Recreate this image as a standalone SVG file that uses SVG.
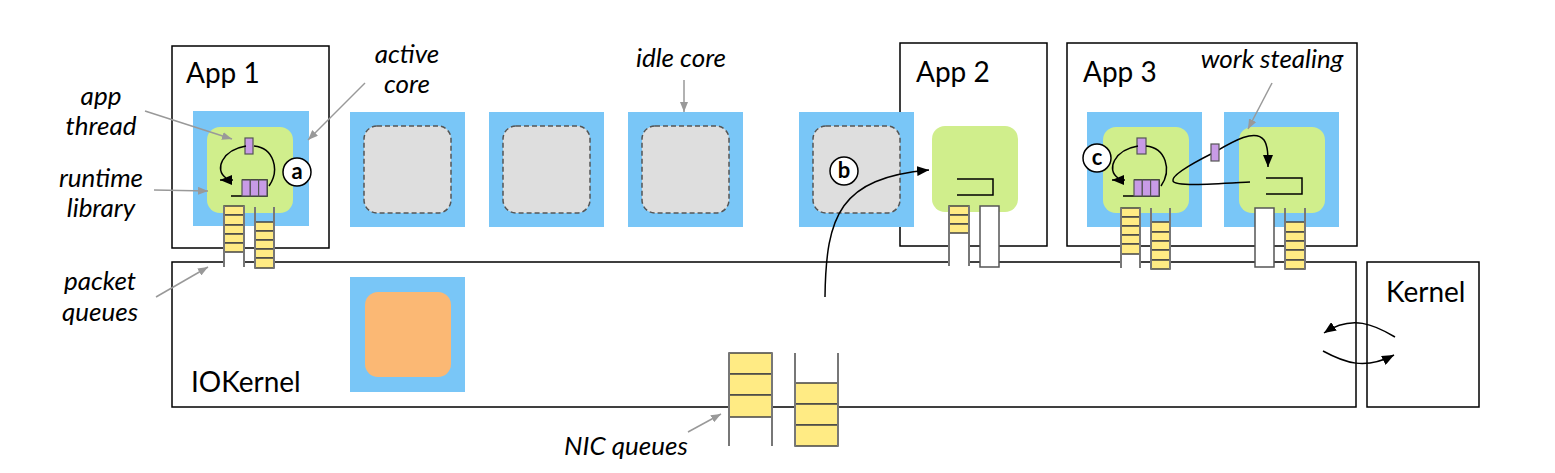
<svg xmlns="http://www.w3.org/2000/svg" width="1555" height="473" viewBox="0 0 1555 473">
<style>
.box{fill:#fff;stroke:#000;stroke-width:1.5}
.core{fill:#79C6F7}
.grn{fill:#D0EE8C}
.idle{fill:#DEDEDE;stroke:#555;stroke-width:1.5;stroke-dasharray:5 3}
.org{fill:#FBB874}
.t{font-family:Lato,"Liberation Sans",sans-serif;font-size:28px;fill:#000}
.lbl{font-family:Lato,"Liberation Sans",sans-serif;font-size:26px;font-style:italic;fill:#000;text-anchor:middle}
.cl{font-family:Lato,"Liberation Sans",sans-serif;font-size:22px;font-weight:bold;fill:#000;text-anchor:middle}
.circ{fill:#fff;stroke:#000;stroke-width:1.5}
.pur{fill:#C89BE6;stroke:#555;stroke-width:1.2}
.cell{fill:#FFEB84;stroke:#444;stroke-width:1.5}
.wall{stroke:#777;stroke-width:2;fill:none}
.qw{fill:#fff}
.eq{fill:#fff;stroke:#555;stroke-width:1.5}
.qs{fill:none;stroke:#000;stroke-width:1.5}
.lead{fill:none;stroke:#999;stroke-width:1.5;marker-end:url(#ga)}
.cur{fill:none;stroke:#000;stroke-width:1.5;marker-end:url(#ba)}
.cur2{fill:none;stroke:#000;stroke-width:1.5}
</style>
<defs>
<marker id="ba" viewBox="0 0 12 10" refX="12" refY="5" markerWidth="12" markerHeight="10" markerUnits="userSpaceOnUse" orient="auto"><path d="M0,0 L12,5 L0,10 z" fill="#000"/></marker>
<marker id="ga" viewBox="0 0 10 8" refX="10" refY="4" markerWidth="10" markerHeight="8" markerUnits="userSpaceOnUse" orient="auto"><path d="M0,0 L10,4 L0,8 z" fill="#999"/></marker>
</defs>
<rect width="1555" height="473" fill="#fff"/>

<g id="app1">
<rect class="box" x="172" y="46" width="157" height="202"/>
<text class="t" x="186" y="83">App 1</text>
<rect class="core" x="193" y="111" width="116" height="115"/>
<rect class="grn" x="207" y="127" width="86" height="86" rx="13"/>
<path class="qs" d="M231 196 L267 196 L267 180 L242 180"/>
<rect class="pur" x="242" y="180" width="8.3" height="16"/>
<rect class="pur" x="250.3" y="180" width="8.3" height="16"/>
<rect class="pur" x="258.6" y="180" width="8.4" height="16"/>
<rect class="pur" x="245" y="138" width="8" height="16"/>
</g>

<g id="core2"><rect class="core" x="350" y="112" width="115" height="115"/><rect class="idle" x="364" y="126" width="87" height="87" rx="13"/></g>
<g id="core3"><rect class="core" x="489" y="112" width="115" height="115"/><rect class="idle" x="503" y="126" width="87" height="87" rx="13"/></g>
<g id="core4"><rect class="core" x="628" y="112" width="115" height="115"/><rect class="idle" x="642" y="126" width="87" height="87" rx="13"/></g>

<g id="app2">
<rect class="box" x="900" y="43" width="147" height="203"/>
<text class="t" x="916" y="82">App 2</text>
<rect class="grn" x="932" y="126" width="86" height="86" rx="13"/>
<path class="qs" d="M957 179 L993 179 L993 195 L957 195"/>
</g>

<g id="core5"><rect class="core" x="799" y="112" width="115" height="115"/><rect class="idle" x="813" y="126" width="87" height="87" rx="13"/></g>

<g id="app3">
<rect class="box" x="1067" y="43" width="290" height="203"/>
<text class="t" x="1083" y="82">App 3</text>
<rect class="core" x="1087" y="112" width="115" height="115"/>
<rect class="grn" x="1103" y="127" width="86" height="86" rx="13"/>
<rect class="core" x="1224" y="112" width="115" height="115"/>
<rect class="grn" x="1239" y="127" width="86" height="86" rx="13"/>
<path class="qs" d="M1123 196 L1159 196 L1159 180 L1134 180"/>
<rect class="pur" x="1134" y="180" width="8.3" height="16"/>
<rect class="pur" x="1142.3" y="180" width="8.3" height="16"/>
<rect class="pur" x="1150.6" y="180" width="8.4" height="16"/>
<rect class="pur" x="1137" y="138" width="9" height="16"/>
<path class="qs" d="M1266 178 L1302 178 L1302 194 L1266 194"/>
</g>

<g id="iokernel">
<rect class="box" x="172" y="262" width="1184" height="145"/>
<text class="t" x="191" y="392">IOKernel</text>
<rect class="core" x="350" y="277" width="115" height="115"/>
<rect class="org" x="365" y="292" width="86" height="85" rx="13"/>
</g>

<g id="kernel">
<rect class="box" x="1367" y="262" width="112" height="145"/>
<text class="t" x="1386" y="302">Kernel</text>
</g>

<g id="packet-queues">
<rect class="qw" x="224" y="228" width="20" height="39"/>
<rect class="cell" x="224" y="206" width="20" height="9"/><rect class="cell" x="224" y="215" width="20" height="10"/><rect class="cell" x="224" y="225" width="20" height="9"/><rect class="cell" x="224" y="234" width="20" height="9"/><rect class="cell" x="224" y="243" width="20" height="9"/>
<path class="wall" d="M224 206 V267 M244 206 V267"/>
<rect class="qw" x="255" y="228" width="19" height="40"/>
<rect class="cell" x="255" y="222" width="19" height="9"/><rect class="cell" x="255" y="231" width="19" height="9"/><rect class="cell" x="255" y="240" width="19" height="9"/><rect class="cell" x="255" y="249" width="19" height="9"/><rect class="cell" x="255" y="258" width="19" height="10"/>
<path class="wall" d="M255 207 V268 M274 207 V268"/>

<rect class="qw" x="949" y="206" width="20" height="60"/>
<rect class="cell" x="949" y="206" width="20" height="9"/><rect class="cell" x="949" y="215" width="20" height="9"/><rect class="cell" x="949" y="224" width="20" height="9"/>
<path class="wall" d="M949 206 V266 M969 206 V266"/>
<rect class="eq" x="980" y="206" width="19" height="61"/>

<rect class="qw" x="1121" y="228" width="19" height="40"/>
<rect class="cell" x="1121" y="208" width="19" height="9"/><rect class="cell" x="1121" y="217" width="19" height="9"/><rect class="cell" x="1121" y="226" width="19" height="9"/><rect class="cell" x="1121" y="235" width="19" height="9"/><rect class="cell" x="1121" y="244" width="19" height="10"/>
<path class="wall" d="M1121 208 V268 M1140 208 V268"/>
<rect class="qw" x="1151" y="228" width="19" height="41"/>
<rect class="cell" x="1151" y="222" width="19" height="10"/><rect class="cell" x="1151" y="232" width="19" height="9"/><rect class="cell" x="1151" y="241" width="19" height="9"/><rect class="cell" x="1151" y="250" width="19" height="10"/><rect class="cell" x="1151" y="260" width="19" height="9"/>
<path class="wall" d="M1151 208 V269 M1170 208 V269"/>
<rect class="eq" x="1255" y="208" width="19" height="59"/>
<rect class="qw" x="1285" y="228" width="20" height="41"/>
<rect class="cell" x="1285" y="222" width="20" height="10"/><rect class="cell" x="1285" y="232" width="20" height="9"/><rect class="cell" x="1285" y="241" width="20" height="9"/><rect class="cell" x="1285" y="250" width="20" height="10"/><rect class="cell" x="1285" y="260" width="20" height="9"/>
<path class="wall" d="M1285 208 V269 M1305 208 V269"/>
</g>

<g id="nic-queues">
<rect class="qw" x="729" y="353" width="43" height="93"/>
<rect class="cell" x="729" y="353" width="43" height="21"/><rect class="cell" x="729" y="374" width="43" height="21"/><rect class="cell" x="729" y="395" width="43" height="22"/>
<path class="wall" d="M729 353 V446 M772 353 V446"/>
<rect class="qw" x="795" y="353" width="43" height="93"/>
<rect class="cell" x="795" y="383" width="43" height="21"/><rect class="cell" x="795" y="404" width="43" height="21"/><rect class="cell" x="795" y="425" width="43" height="21"/>
<path class="wall" d="M795 353 V446 M838 353 V446"/>
</g>

<g id="connectors">
<path class="cur" d="M246 146 C222 150 214 170 226 178 M233 180 L220 180"/>
<path class="cur2" d="M269 186 C280 170 274 148 254 146"/>
<path class="cur" d="M1138 146 C1114 150 1106 170 1118 178 M1125 180 L1112 180"/>
<path class="cur2" d="M1161 186 C1172 170 1166 148 1146 146"/>
<path class="cur" d="M1250 182 C1215 184 1175 187 1173 181 C1171 175 1195 162 1213 153 C1232 142 1255 128 1264 140 C1268 146 1268 155 1268 167"/>
<path class="cur" d="M825 297 C826 215 840 178 929 170"/>
<path class="cur" d="M1395 337 C1375 325 1352 314 1324 333"/>
<path class="cur" d="M1323 351 C1345 363 1365 370 1394 355"/>
<path class="lead" d="M145 111 L232 139"/>
<path class="lead" d="M154 190 L208 191"/>
<path class="lead" d="M156 297 L208 267"/>
<path class="lead" d="M365 83 L308 140"/>
<path class="lead" d="M684 80 L684 112"/>
<path class="lead" d="M1272 83 L1248 129"/>
<path class="lead" d="M688 432 L721 414"/>
</g>

<g id="steal-item"><rect class="pur" x="1211" y="144" width="8" height="17"/></g>

<g id="markers">
<circle class="circ" cx="297" cy="172" r="14"/><text class="cl" x="297" y="179">a</text>
<circle class="circ" cx="844" cy="171" r="14"/><text class="cl" x="844" y="178">b</text>
<circle class="circ" cx="1097" cy="158" r="14"/><text class="cl" x="1097" y="165">c</text>
</g>

<g id="labels">
<text class="lbl" x="101" y="105">app</text>
<text class="lbl" x="101" y="135">thread</text>
<text class="lbl" x="101" y="187">runtime</text>
<text class="lbl" x="101" y="217">library</text>
<text class="lbl" x="100" y="290">packet</text>
<text class="lbl" x="100" y="321">queues</text>
<text class="lbl" x="407" y="63">active</text>
<text class="lbl" x="407" y="93">core</text>
<text class="lbl" x="681" y="67">idle core</text>
<text class="lbl" x="1272" y="68">work stealing</text>
<text class="lbl" x="626" y="455">NIC queues</text>
</g>
</svg>
